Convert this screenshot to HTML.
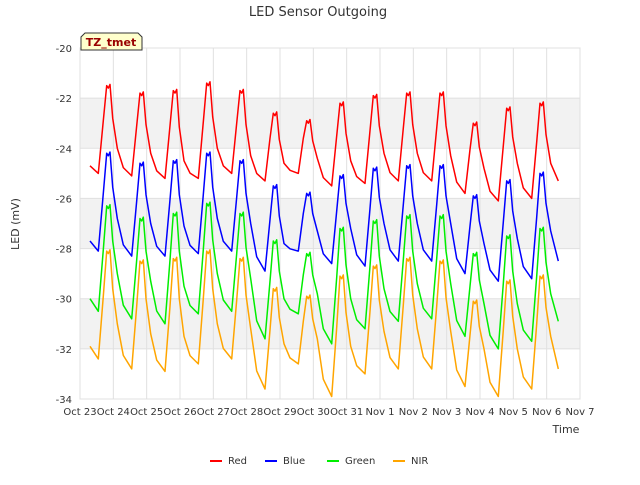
<!DOCTYPE html>
<html><head><meta charset="utf-8"><style>
body{margin:0;background:#fff;font-family:"Liberation Sans",sans-serif}
svg text{font-family:"DejaVu Sans","Liberation Sans",sans-serif}
</style></head><body>
<svg id="chart" width="640" height="480">
<rect width="640" height="480" fill="#fff"/>
<text x="318" y="16" text-anchor="middle" font-size="13" fill="#333">LED Sensor Outgoing</text>
<g id="plot"></g>
</svg>
<script>
const xTickLabels=["Oct 23","Oct 24","Oct 25","Oct 26","Oct 27","Oct 28","Oct 29","Oct 30","Oct 31","Nov 1","Nov 2","Nov 3","Nov 4","Nov 5","Nov 6","Nov 7"];
const yTicks=[-34,-32,-30,-28,-26,-24,-22,-20];
const seriesNames=["Red","Blue","Green","NIR"];
const seriesColors=["#ff0000","#0000ff","#00ee00","#ffa500"];
const redStart=-24.7, redEnd=-25.3;
const redTroughs=[-25,-25.1,-25.2,-25.2,-25.0,-25.3,-25.0,-25.5,-25.4,-25.3,-25.3,-25.8,-26.1,-26.0];
const redPeaks=[-21.6,-21.9,-21.8,-21.5,-21.8,-22.7,-23.0,-22.3,-22.0,-21.9,-21.9,-23.1,-22.5,-22.3];
const redShoulders=[-24.0,-24.2,-24.5,-24.0,-24.3,-24.6,-24.4,-24.5,-24.2,-24.2,-24.3,-24.8,-24.6,-24.6];
const blueStart=-27.7, blueEnd=-28.5;
const blueTroughs=[-28.1,-28.3,-28.3,-28.2,-28.1,-28.9,-28.1,-28.6,-28.7,-28.5,-28.5,-29.0,-29.3,-29.2];
const bluePeaks=[-24.3,-24.7,-24.6,-24.3,-24.6,-25.6,-25.9,-25.2,-24.9,-24.8,-24.8,-26.0,-25.4,-25.1];
const blueShoulders=[-26.8,-27.0,-27.1,-26.8,-27.0,-27.8,-27.3,-27.2,-27.0,-27.0,-27.0,-27.8,-27.6,-27.3];
const greenStart=-30.0, greenEnd=-30.9;
const greenTroughs=[-30.5,-30.8,-31.0,-30.6,-30.5,-31.6,-30.6,-31.8,-31.2,-30.9,-30.8,-31.5,-32.0,-31.7];
const greenPeaks=[-26.4,-26.9,-26.7,-26.3,-26.7,-27.8,-28.3,-27.3,-27.0,-26.8,-26.8,-28.3,-27.6,-27.3];
const greenShoulders=[-29.0,-29.3,-29.5,-29.0,-29.2,-30.0,-29.8,-30.0,-29.6,-29.4,-29.4,-30.2,-30.2,-29.8];
const nirStart=-31.9, nirEnd=-32.8;
const nirTroughs=[-32.4,-32.8,-32.9,-32.6,-32.4,-33.6,-32.6,-33.9,-33.0,-32.8,-32.8,-33.5,-33.9,-33.6];
const nirPeaks=[-28.2,-28.6,-28.5,-28.2,-28.5,-29.7,-30.0,-29.2,-28.8,-28.5,-28.6,-30.2,-29.4,-29.2];
const nirShoulders=[-31.0,-31.4,-31.5,-31.0,-31.2,-31.8,-31.6,-31.9,-31.3,-31.2,-31.3,-32.0,-32.0,-31.5];

const L=80,R=580,T=48,B=399,NS="http://www.w3.org/2000/svg";
const xS=d=>L+(R-L)*d/15, yS=v=>T+(B-T)*(-20-v)/14;
const g=document.getElementById('plot');
function el(t,a,p){const e=document.createElementNS(NS,t);for(const k in a)e.setAttribute(k,a[k]);(p||g).appendChild(e);return e;}
const bg=el('rect',{x:L,y:T,width:R-L,height:B-T,fill:'#fff',stroke:'#ddd'});


[[-22,-24],[-26,-28],[-30,-32]].forEach(b=>{const r=el('rect',{x:L,y:yS(b[0]),width:R-L,height:yS(b[1])-yS(b[0]),fill:'#f2f2f2'});

});
yTicks.forEach(v=>{el('line',{x1:L,x2:R,y1:yS(v),y2:yS(v),stroke:'#e0e0e0'});
const t=el('text',{x:L-8,y:yS(v)+4,'text-anchor':'end','font-size':10,fill:'#333'});t.textContent=v;

});
xTickLabels.forEach((s,i)=>{el('line',{x1:xS(i),x2:xS(i),y1:T,y2:B,stroke:'#e0e0e0'});
const t=el('text',{x:xS(i),y:B+16,'text-anchor':'middle','font-size':10,fill:'#333'});t.textContent=s;

});
const yt=el('text',{x:19,y:224,'text-anchor':'middle','font-size':11,fill:'#333',transform:'rotate(-90 19 224)'});yt.textContent='LED (mV)';


const xt=el('text',{x:566,y:433,'text-anchor':'middle','font-size':11,fill:'#333'});xt.textContent='Time';


const data=[[redStart,redTroughs,redPeaks,redShoulders,redEnd],[blueStart,blueTroughs,bluePeaks,blueShoulders,blueEnd],
[greenStart,greenTroughs,greenPeaks,greenShoulders,greenEnd],[nirStart,nirTroughs,nirPeaks,nirShoulders,nirEnd]];
data.forEach((s,k)=>{const pts=[[0.3,s[0]]];
s[1].forEach((tr,i)=>{
if(i>0){const prevSh=s[3][i-1];pts.push([i+0.3,tr+(prevSh-tr)*0.3]);}
pts.push([i+0.55,tr]);pts.push([i+0.7,(tr+s[2][i])/2+0.4]);pts.push([i+0.8,s[2][i]+0.1]);pts.push([i+0.85,s[2][i]]);pts.push([i+0.9,s[2][i]+0.15]);pts.push([i+0.98,(s[2][i]+s[3][i])/2]);pts.push([i+1.12,s[3][i]]);});
pts.push([14.35,s[4]]);
const p=el('polyline',{points:pts.map(q=>xS(q[0]).toFixed(1)+','+yS(q[1]).toFixed(1)).join(' '),fill:'none',stroke:seriesColors[k],'stroke-width':1.5,'stroke-linejoin':'round'});


const lx=[210,265,327,393][k];
const ll=el('line',{x1:lx,x2:lx+12,y1:461,y2:461,stroke:seriesColors[k],'stroke-width':2});


const lt=el('text',{x:lx+18,y:464,'font-size':10,fill:'#333'});lt.textContent=seriesNames[k];

});
const box=el('path',{d:'M81,50 L81,37 L85,33 L138,33 L142,37 L142,50 Z',fill:'#ffffcc',stroke:'#333'});


const bt=el('text',{x:111,y:46,'text-anchor':'middle','font-size':11,'font-weight':'bold',fill:'#990000'});bt.textContent='TZ_tmet';


</script>
</body></html>
